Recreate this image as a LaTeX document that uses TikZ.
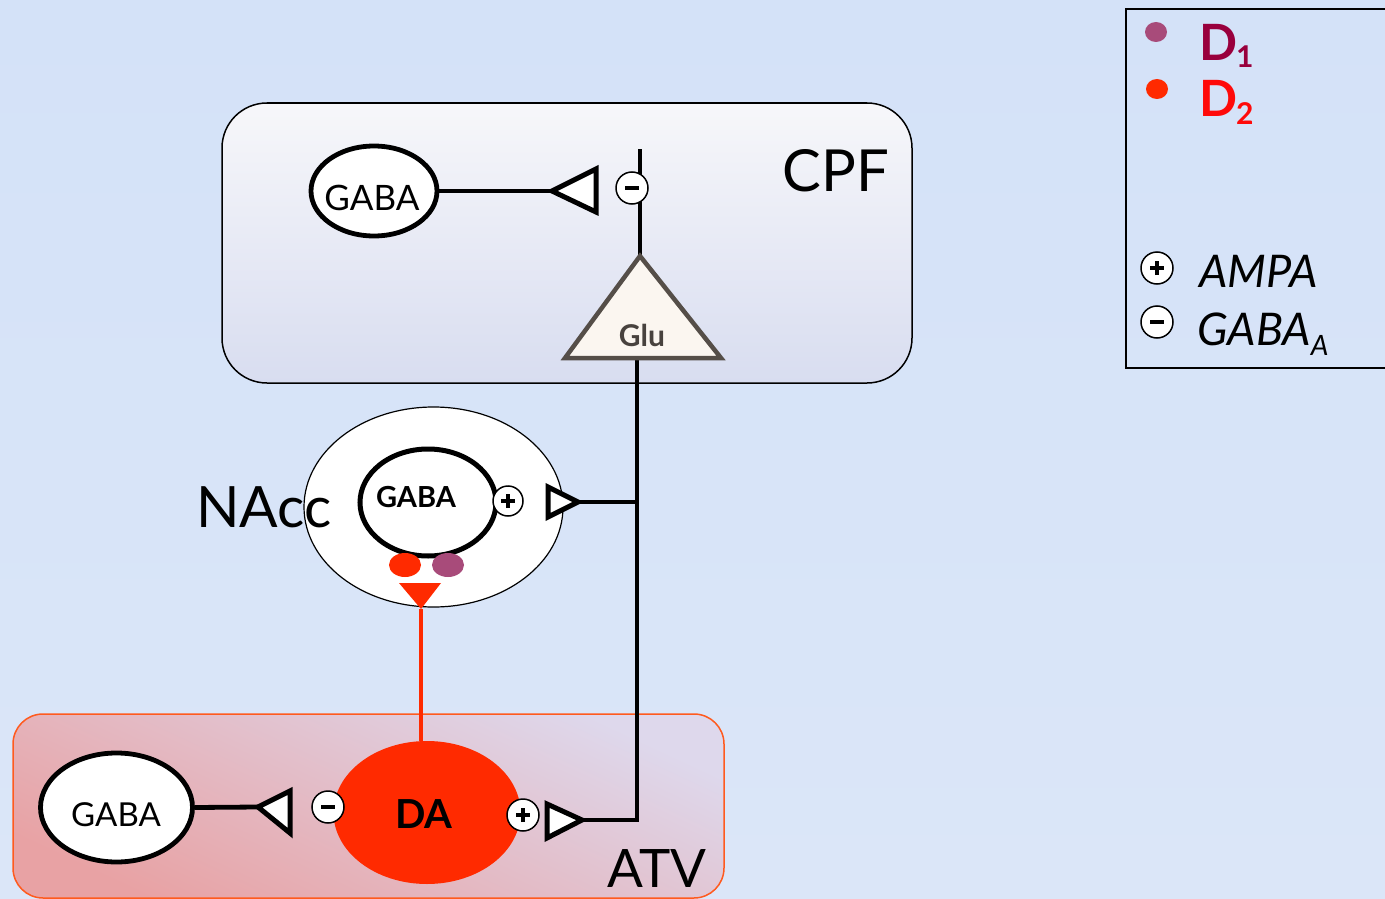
\documentclass[tikz,border=0pt]{standalone}
\usepackage{fontspec}
\setmainfont{Lato}
\usetikzlibrary{shapes.geometric}
\newcommand\myfs[1]{\fontsize{#1}{#1}\selectfont}
\definecolor{bgtop}{RGB}{212,226,248}
\definecolor{bgbot}{RGB}{219,230,248}
\definecolor{cpftop}{RGB}{247,247,250}
\definecolor{cpfbot}{RGB}{216,221,240}
\definecolor{atvtop}{RGB}{222,216,236}
\definecolor{atvbot}{RGB}{232,162,164}
\definecolor{atvedge}{RGB}{255,90,30}
\definecolor{dared}{RGB}{255,42,0}
\definecolor{dpurple}{RGB}{168,75,122}
\definecolor{donecol}{RGB}{153,0,61}
\definecolor{dtwocol}{RGB}{255,10,10}
\definecolor{glufill}{RGB}{251,246,240}
\definecolor{gluedge}{RGB}{85,78,72}
\definecolor{glutext}{RGB}{72,66,62}
\begin{document}
\begin{tikzpicture}[x=1pt,y=-1pt,
  thickl/.style={line width=4.8pt},
  cell/.style={ellipse,draw,fill=white,line width=4.8pt,inner sep=0pt},
  rec/.style={circle,draw,fill=white,line width=1.5pt,minimum size=32pt,inner sep=0pt},
  plusr/.style={rec,path picture={
      \draw[line width=3.4pt] ([xshift=-7pt]path picture bounding box.center) -- ([xshift=7pt]path picture bounding box.center);
      \draw[line width=3.4pt] ([yshift=-7pt]path picture bounding box.center) -- ([yshift=7pt]path picture bounding box.center);}},
  minusr/.style={rec,path picture={
      \draw[line width=3.4pt] ([xshift=-7pt]path picture bounding box.center) -- ([xshift=7pt]path picture bounding box.center);}},
  term/.style={draw,fill=white,line width=5pt,line join=miter},
  dot/.style={ellipse,inner sep=0pt,minimum width=32pt,minimum height=24pt},
  lbl/.style={inner sep=0pt}
]
\useasboundingbox (0,0) rectangle (1385,899);
\clip (0,0) rectangle (1385,899);
\shade[top color=bgtop,bottom color=bgbot] (0,0) rectangle (1385,899);

% regions
\shade[draw=black,line width=1.5pt,rounded corners=45pt,top color=cpftop,bottom color=cpfbot]
  (222,103) rectangle (912,383);
\shade[draw=atvedge,line width=1.5pt,rounded corners=30pt,top color=atvtop,bottom color=atvbot,shading angle=-25]
  (13,714) rectangle (724,898);
\node[lbl] (cpf) at (836,171) {\myfs{58}CPF};
\node[lbl] (atv) at (657,869) {\myfs{53}ATV};

% NAcc
\node[ellipse,draw,fill=white,line width=1.2pt,minimum width=259pt,minimum height=200pt] (nacc) at (433.5,507) {};
\node[lbl,anchor=west] (nacclbl) at (196,507.5) {\myfs{57}NAcc};

% coordinates
\coordinate (t1tip) at (552,191);
\coordinate (t2tip) at (578,502);
\coordinate (t3tip) at (258,807);
\coordinate (t4tip) at (582,820);
\coordinate (axtop) at (640,149);
\coordinate (gluapex) at (640,256);
\coordinate (glubase) at (637,359);
\coordinate (j1) at (637,502);
\coordinate (j2) at (637,820);
\coordinate (redtip) at (421,609);

% cells
\node[cell,minimum width=126pt,minimum height=90pt] (gtop) at (374,191) {};
\node[cell,line width=5pt,minimum width=136pt,minimum height=107pt] (gnacc) at (428,502.5) {};
\node[cell,minimum width=152pt,minimum height=109pt] (gbot) at (116.5,807.5) {};
\node[ellipse,fill=dared,inner sep=0pt,minimum width=187pt,minimum height=143pt] (da) at (427,812.5) {};

% connectors
\draw[thickl] (gtop.east) -- (t1tip);
\draw[thickl] (axtop) -- (gluapex);
\draw[thickl] (glubase) -- (j1) -- (j2) -- (t4tip);
\draw[thickl] (j1) -- (t2tip);
\draw[thickl] (gbot.east) -- (t3tip);
\draw[dared,line width=4.5pt] (redtip) -- (da.north -| redtip);

% terminals
\draw[term] (t1tip) -- (596,169) -- (596,212) -- cycle;
\draw[term] (t2tip) -- (548,487) -- (548,517) -- cycle;
\draw[term] (t3tip) -- (290,791) -- (290,833) -- cycle;
\draw[term] (t4tip) -- (547,804) -- (547,838) -- cycle;
\fill[dared] (399,583) -- (441,583) -- (redtip) -- cycle;

% Glu
\draw[fill=glufill,draw=gluedge,line width=4.5pt,line join=miter] (565,358) -- (gluapex) -- (721,358) -- cycle;
\node[lbl,text=glutext] (glu) at (642,335.5) {\myfs{30}\bfseries Glu};

% receptors
\node[minusr] (m1) at (632,188) {};
\node[plusr,minimum size=30pt] (p1) at (508,501) {};
\node[minusr] (m2) at (328,807) {};
\node[plusr] (p2) at (523,815) {};
\node[dot,fill=dared] (d2n) at (405,565) {};
\node[dot,fill=dpurple] (d1n) at (448,565) {};

% texts
\node[lbl] (gtopt) at (372,197.5) {\myfs{35}GABA};
\node[lbl] (gnaccct) at (416,497.5) {\myfs{29}\bfseries GABA};
\node[lbl] (gbott) at (116,815) {\myfs{33}GABA};
\node[lbl] (dat) at (424,814.5) {\myfs{40}\bfseries DA};

% legend
\draw[line width=2pt] (1126,9) rectangle (1400,368);
\node[ellipse,fill=dpurple,inner sep=0pt,minimum width=22pt,minimum height=20pt] (lg1) at (1156,32) {};
\node[ellipse,fill=dared,inner sep=0pt,minimum width=22pt,minimum height=20pt] (lg2) at (1157,89) {};
\node[lbl,anchor=base west,text=donecol] (lt1) at (1199,61) {\myfs{50}\bfseries D\kern-1pt\raisebox{-7pt}{\myfs{30}1}};
\node[lbl,anchor=base west,text=dtwocol] (lt2) at (1199,116) {\myfs{50}\bfseries D\kern-1pt\raisebox{-9pt}{\myfs{30}2}};
\node[plusr] (lp) at (1157,268) {};
\node[minusr] (lm) at (1157,322) {};
\node[lbl,anchor=base west] (lt3) at (1199,287) {\myfs{45}\itshape AMPA};
\node[lbl,anchor=base west] (lt4) at (1197,345) {\myfs{45}\itshape GABA\raisebox{-10pt}{\myfs{28}A}};
\end{tikzpicture}
\end{document}
